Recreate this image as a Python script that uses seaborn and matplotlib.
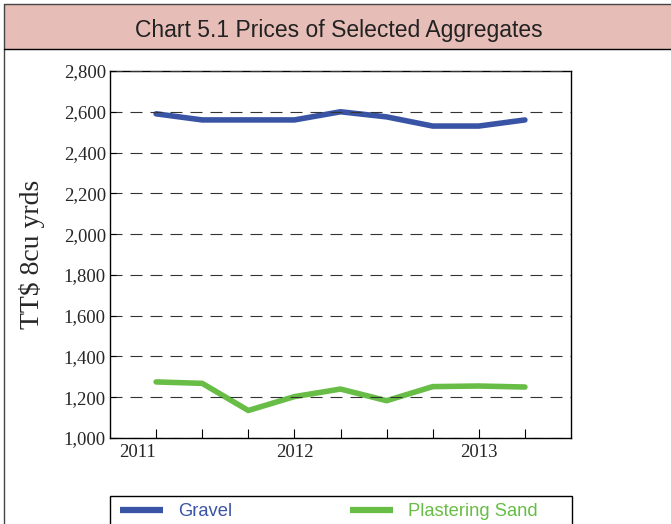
import numpy as np
import pandas as pd
import seaborn as sns
import matplotlib.pyplot as plt
from matplotlib.patches import Rectangle
from matplotlib.lines import Line2D

# quarterly prices, TT$ per 8 cu yards
period = [0, 1, 2, 3, 4, 5, 6, 7, 8]
gravel = [2590, 2560, 2560, 2560, 2600, 2575, 2530, 2530, 2560]
plastering_sand = [1275, 1268, 1135, 1203, 1240, 1183, 1252, 1255, 1250]
year_labels = {0: '2011', 3: '2012', 7: '2013'}

df = pd.DataFrame({'period': period * 2,
                   'price': gravel + plastering_sand,
                   'series': ['Gravel'] * len(period) + ['Plastering Sand'] * len(period)})

sns.set_style('white')
plt.rcParams['font.family'] = ['Liberation Serif', 'DejaVu Serif']

fig = plt.figure(figsize=(6.71, 5.24), dpi=100)
ax = fig.add_axes([110/671, 1-438/524, 461/671, 367/524])

palette = {'Gravel': '#3A54A5', 'Plastering Sand': '#67BD45'}
sns.lineplot(data=df, x='period', y='price', hue='series', palette=palette,
             linewidth=4, ax=ax, legend=False)

ax.set_xlim(-1, 9)
ax.set_ylim(1000, 2800)
ax.set_yticks(np.arange(1000, 2801, 200))
ax.set_yticklabels([f'{v:,}' for v in range(1000, 2801, 200)], fontsize=13.5)
ax.set_xticks(period)
ax.set_xticklabels([year_labels.get(p, '') for p in period], fontsize=13.5)
ax.get_xticklabels()[0].set_ha('right')
ax.tick_params(axis='x', bottom=True, direction='in', length=6.5, width=0.8, pad=4, color='black')
ax.tick_params(axis='y', left=True, direction='in', length=4, width=0.8, pad=3, color='black')
ax.yaxis.grid(True, linestyle=(0, (10.8, 7.2)), color='#333333', linewidth=0.8)
ax.set_axisbelow(False)
for s in ax.spines.values():
    s.set_color('black')
    s.set_linewidth(1)
ax.set_xlabel('')
ax.set_ylabel('TT$ 8cu yrds', fontsize=20)
ax.yaxis.set_label_coords(-0.142, 0.5)

# outer box and title band
fig.patches.append(Rectangle((4/671, 1-49/524), 1, 45/524, transform=fig.transFigure,
                             facecolor='#E6BDB7', edgecolor='none', zorder=0))
fig.lines.append(Line2D([4/671, 4/671], [0, 1-4/524], transform=fig.transFigure, color='#444444', lw=1))
fig.lines.append(Line2D([4/671, 1], [1-4/524, 1-4/524], transform=fig.transFigure, color='#444444', lw=1))
fig.lines.append(Line2D([4/671, 1], [1-49/524, 1-49/524], transform=fig.transFigure, color='black', lw=1))
fig.text(339/671, 1-30/524, 'Chart 5.1 Prices of Selected Aggregates', ha='center', va='center',
         fontsize=16.5, family=['Liberation Sans', 'DejaVu Sans'], color='#222222')

# legend box
fig.patches.append(Rectangle((110/671, -0.05), 462/671, 0.05 + 1-496/524, transform=fig.transFigure,
                             facecolor='white', edgecolor='black', lw=1))
for x0, name in [(120, 'Gravel'), (350, 'Plastering Sand')]:
    fig.lines.append(Line2D([x0/671, (x0+43)/671], [1-510/524, 1-510/524], transform=fig.transFigure,
                            color=palette[name], lw=4.5, solid_capstyle='butt'))
    fig.text((x0+58)/671, 1-511/524, name, ha='left', va='center', fontsize=13.2,
             family=['Liberation Sans', 'DejaVu Sans'], color=palette[name])

fig.savefig('out.png', dpi=100)
